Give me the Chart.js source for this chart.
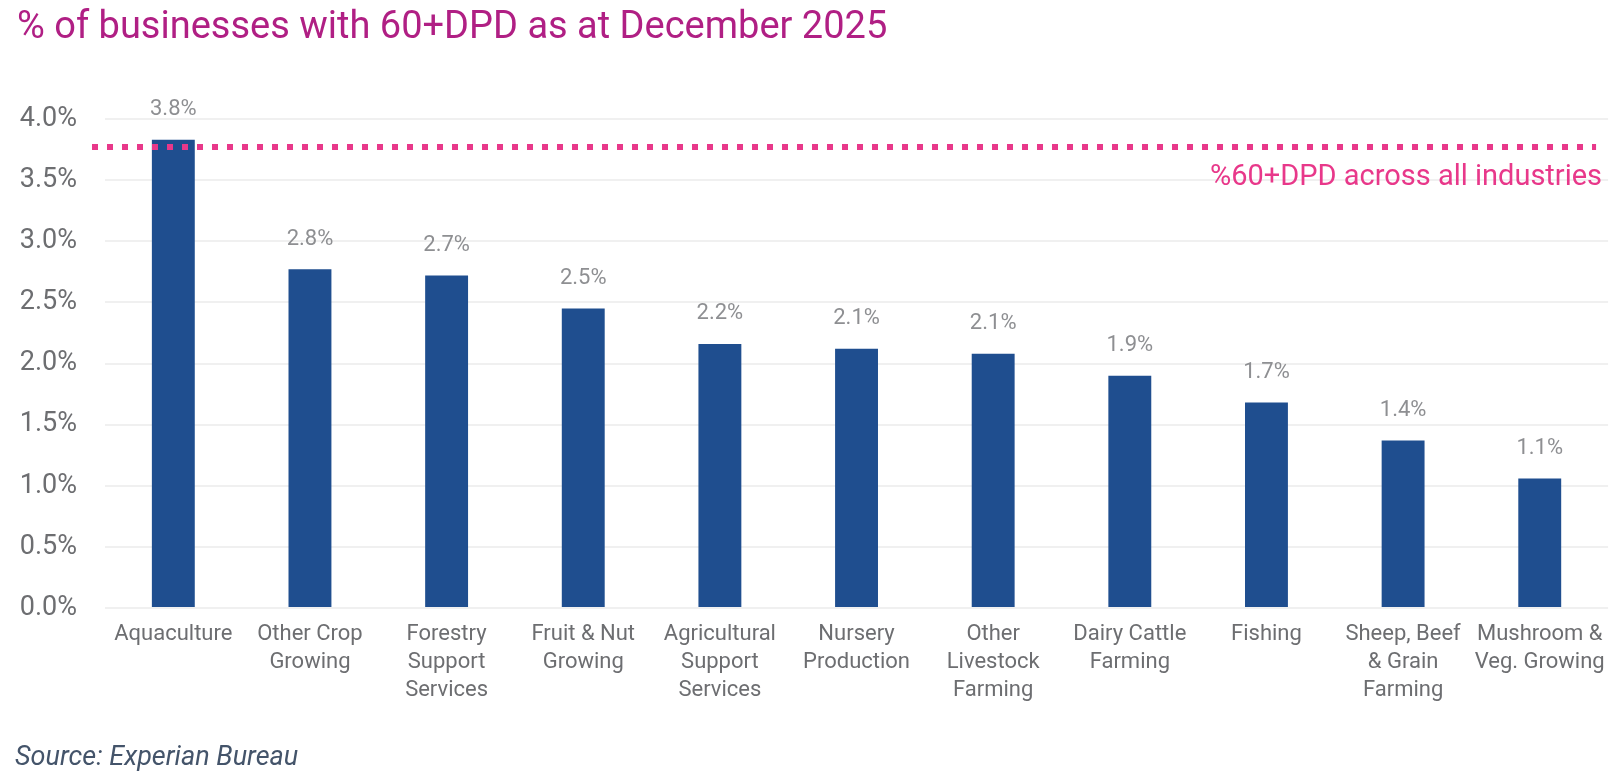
<!DOCTYPE html>
<html>
<head>
<meta charset="utf-8">
<script src="https://cdn.jsdelivr.net/npm/chart.js@4.4.1/dist/chart.umd.min.js"></script>
<style>
  html, body { margin: 0; padding: 0; background: #ffffff; }
  #wrap { width: 1617px; height: 779px; position: relative; }
</style>
</head>
<body>
<div id="wrap"><canvas id="chart"></canvas></div>
<script>
const CATEGORIES = [
  "Aquaculture",
  ["Other Crop", "Growing"],
  ["Forestry", "Support", "Services"],
  ["Fruit & Nut", "Growing"],
  ["Agricultural", "Support", "Services"],
  ["Nursery", "Production"],
  ["Other", "Livestock", "Farming"],
  ["Dairy Cattle", "Farming"],
  "Fishing",
  ["Sheep, Beef", "& Grain", "Farming"],
  ["Mushroom &", "Veg. Growing"]
];

const SHARE_60DPD = [3.83, 2.77, 2.72, 2.45, 2.16, 2.12, 2.08, 1.9, 1.68, 1.37, 1.06];
const VALUE_LABELS = ["3.8%", "2.8%", "2.7%", "2.5%", "2.2%", "2.1%", "2.1%", "1.9%", "1.7%", "1.4%", "1.1%"];
const Y_TICKS = [0, 0.5, 1.0, 1.5, 2.0, 2.5, 3.0, 3.5, 4.0];
const ALL_INDUSTRIES_60DPD = 3.77;

const TITLE = "% of businesses with 60+DPD as at December 2025";
const SOURCE = "Source: Experian Bureau";
const REF_LABEL = "%60+DPD across all industries";

const COLORS = {
  bar: "#1F4E8F",
  title: "#B01F84",
  ref: "#E8388A",
  grid: "#F0F0F0",
  tick: "#6D6E71",
  value: "#8E8F92",
  source: "#44546A"
};

const FONT = "Roboto, 'Open Sans', sans-serif";

// value labels above each bar
const valueLabels = {
  id: "valueLabels",
  afterDatasetsDraw(chart) {
    const { ctx } = chart;
    const meta = chart.getDatasetMeta(0);
    ctx.save();
    ctx.font = `22px ${FONT}`;
    ctx.fillStyle = COLORS.value;
    ctx.textAlign = "center";
    ctx.textBaseline = "middle";
    meta.data.forEach((bar, i) => {
      ctx.fillText(VALUE_LABELS[i], bar.x, bar.y - 30);
    });
    ctx.restore();
  }
};

// dotted all-industries line with its label
const referenceLine = {
  id: "referenceLine",
  afterDatasetsDraw(chart) {
    const { ctx, chartArea } = chart;
    const y = chart.scales.y.getPixelForValue(ALL_INDUSTRIES_60DPD);
    ctx.save();
    ctx.strokeStyle = COLORS.ref;
    ctx.lineWidth = 6;
    ctx.setLineDash([6, 9]);
    ctx.beginPath();
    ctx.moveTo(chartArea.left - 13, y);
    ctx.lineTo(chartArea.right - 12, y);
    ctx.stroke();
    ctx.setLineDash([]);
    ctx.font = `29px ${FONT}`;
    ctx.fillStyle = COLORS.ref;
    ctx.textAlign = "right";
    ctx.textBaseline = "middle";
    ctx.fillText(REF_LABEL, chartArea.right - 6, y + 31);
    ctx.restore();
  }
};

// title and source note
const frameText = {
  id: "frameText",
  afterDraw(chart) {
    const { ctx } = chart;
    ctx.save();
    ctx.textAlign = "left";
    ctx.textBaseline = "middle";
    ctx.font = `38px ${FONT}`;
    ctx.fillStyle = COLORS.title;
    ctx.fillText(TITLE, 17, 28);
    ctx.font = `italic 27px ${FONT}`;
    ctx.fillStyle = COLORS.source;
    ctx.fillText(SOURCE, 15, 758);
    ctx.restore();
  }
};

new Chart(document.getElementById("chart"), {
  type: "bar",
  data: {
    labels: CATEGORIES,
    datasets: [{
      label: "% 60+DPD",
      data: SHARE_60DPD,
      backgroundColor: COLORS.bar,
      borderWidth: 0,
      barPercentage: 0.314,
      categoryPercentage: 1.0
    }]
  },
  options: {
    responsive: true,
    maintainAspectRatio: false,
    animation: false,
    layout: { padding: { top: 119, right: 6, bottom: 0, left: 0 } },
    plugins: {
      legend: { display: false },
      tooltip: { enabled: false }
    },
    scales: {
      x: {
        grid: { display: false, drawTicks: false },
        border: { display: false },
        ticks: {
          color: COLORS.tick,
          font: { family: FONT, size: 22, lineHeight: "28px" },
          padding: 12,
          maxRotation: 0,
          autoSkip: false
        },
        afterFit: (scale) => { scale.height = 171; }
      },
      y: {
        min: 0,
        max: 4,
        afterBuildTicks: (scale) => {
          scale.ticks = Y_TICKS.map((v) => ({ value: v }));
        },
        grid: { color: COLORS.grid, lineWidth: 2, drawTicks: false },
        border: { display: false },
        ticks: {
          color: COLORS.tick,
          font: { family: FONT, size: 27 },
          padding: 28,
          callback: (v) => v.toFixed(1) + "%"
        },
        afterFit: (scale) => { scale.width = 105; }
      }
    }
  },
  plugins: [valueLabels, referenceLine, frameText]
});
</script>
</body>
</html>
